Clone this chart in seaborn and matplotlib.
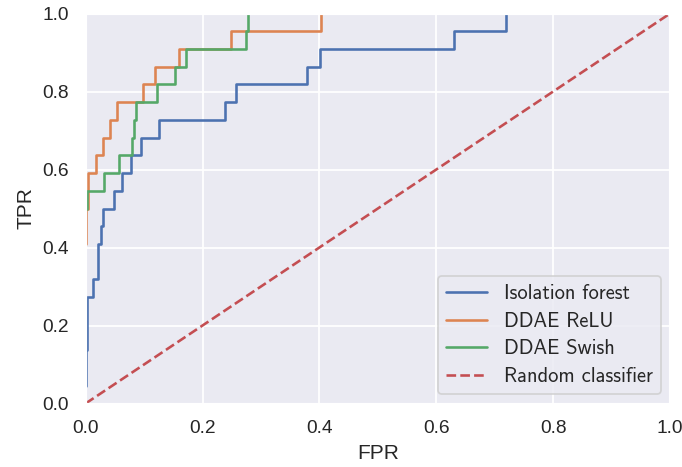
import numpy as np
import pandas as pd
import seaborn as sns
import matplotlib
matplotlib.use("Agg")
import matplotlib.pyplot as plt

N = 22  # positives -> TPR steps of 1/22

# Isolation forest ROC corners
if_fpr = [0.0, 0.0, 0.002, 0.002, 0.013, 0.013, 0.022, 0.022, 0.026, 0.026, 0.029, 0.029,
          0.048, 0.048, 0.062, 0.062, 0.077, 0.077, 0.094, 0.094, 0.125, 0.125, 0.238, 0.238,
          0.257, 0.257, 0.378, 0.378, 0.401, 0.401, 0.631, 0.631, 0.720, 0.720]
if_k = [1, 3, 3, 6, 6, 7, 7, 9, 9, 10, 10, 11,
        11, 12, 12, 13, 13, 14, 14, 15, 15, 16, 16, 17,
        17, 18, 18, 19, 19, 20, 20, 21, 21, 22]

# DDAE ReLU ROC corners
relu_fpr = [0.0, 0.0, 0.004, 0.004, 0.017, 0.017, 0.030, 0.030, 0.041, 0.041, 0.053, 0.053,
            0.098, 0.098, 0.119, 0.119, 0.160, 0.160, 0.249, 0.249, 0.402, 0.402]
relu_k = [9, 11, 11, 13, 13, 14, 14, 15, 15, 16, 16, 17,
          17, 18, 18, 19, 19, 20, 20, 21, 21, 22]

# DDAE Swish ROC corners
swish_fpr = [0.0, 0.002, 0.002, 0.031, 0.031, 0.057, 0.057, 0.079, 0.079, 0.082, 0.082, 0.086,
             0.086, 0.122, 0.122, 0.153, 0.153, 0.171, 0.171, 0.274, 0.274, 0.278, 0.278]
swish_k = [11, 11, 12, 12, 13, 13, 14, 14, 15, 15, 16, 16,
           17, 17, 18, 18, 19, 19, 20, 20, 21, 21, 22]

rand_x = [0.0, 1.0]
rand_y = [0.0, 1.0]

labels = ["Isolation forest", "DDAE ReLU", "DDAE Swish"]
ticks = [0.0, 0.2, 0.4, 0.6, 0.8, 1.0]

sns.set_theme(style="darkgrid", context="notebook")
plt.rcParams['font.family'] = ['Liberation Sans', 'DejaVu Sans']

frames = []
for name, fx, k in zip(labels, [if_fpr, relu_fpr, swish_fpr], [if_k, relu_k, swish_k]):
    frames.append(pd.DataFrame({"FPR": fx, "TPR": np.array(k) / N, "model": name}))
df = pd.concat(frames, ignore_index=True)
df_rand = pd.DataFrame({"FPR": rand_x, "TPR": rand_y})

dpi = 125
fig = plt.figure(figsize=(682 / dpi, 467 / dpi), dpi=dpi)
ax = fig.add_axes([85.6 / 682, 1 - 403.5 / 467, (670.1 - 85.6) / 682, (403.5 - 13.5) / 467])

pal = sns.color_palette("deep")
sns.lineplot(data=df, x="FPR", y="TPR", hue="model", estimator=None, sort=False,
             units="model", palette=pal[:3], ax=ax, linewidth=1.5)
sns.lineplot(data=df_rand, x="FPR", y="TPR", color=pal[3], linestyle="--",
             ax=ax, label="Random classifier", linewidth=1.5)

ax.set_xlim(0, 1)
ax.set_ylim(0, 1)
ax.set_xticks(ticks)
ax.set_yticks(ticks)
ax.set_xlabel("FPR", fontsize=12)
ax.set_ylabel("TPR", fontsize=12)
ax.tick_params(labelsize=11)
ax.legend(loc="lower right", prop={"family": "cmss10", "size": 11.8},
          labelspacing=0.42, borderaxespad=0.45)

fig.savefig("out.png", dpi=dpi)
